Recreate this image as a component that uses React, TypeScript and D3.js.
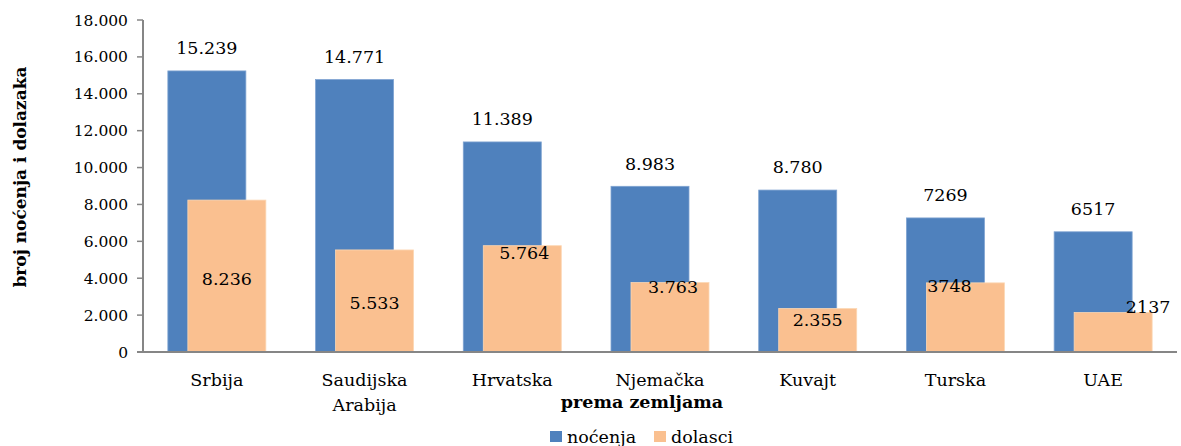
import React, { useEffect } from "react";
import * as d3 from "d3";

const categories = ["Srbija", "Saudijska Arabija", "Hrvatska", "Njemačka", "Kuvajt", "Turska", "UAE"];
const nocenja = [15239, 14771, 11389, 8983, 8780, 7269, 6517];
const dolasci = [8236, 5533, 5764, 3763, 2355, 3748, 2137];
const nocenjaLabels = ["15.239", "14.771", "11.389", "8.983", "8.780", "7269", "6517"];
const dolasciLabels = ["8.236", "5.533", "5.764", "3.763", "2.355", "3748", "2137"];
const yTicks = [0, 2000, 4000, 6000, 8000, 10000, 12000, 14000, 16000, 18000];
const seriesNames = ["noćenja", "dolasci"];

// manual label placement (as in the original chart): value level and horizontal shift
const dolasciLabelLevel = [3958, 2657, 5368, 3524, 1735, 3578, 2440];
const dolasciLabelDx = [0, 0, 2, 3, 0, -16, 35];

const W = 1181;
const H = 446;
const FONT = "'DejaVu Serif', serif";
const BLUE = "#4F81BD";
const ORANGE = "#FAC090";

export default function App() {
  useEffect(() => {
    document.body.style.margin = "0";
  }, []);

  const x = d3.scaleBand<string>().domain(categories).range([143, 1177]).padding(0);
  const y = d3.scaleLinear().domain([0, 18000]).range([352, 20]);
  const barW = 78;
  const off = 20;
  const fmtTick = (v: number) => (v === 0 ? "0" : d3.format(",")(v).replace(/,/g, "."));

  return (
    <svg width={W} height={H} style={{ display: "block" }} fontFamily={FONT}>
      <rect width={W} height={H} fill="#fff" />
      {categories.map((c, i) => {
        const cx = (x(c) as number) + x.bandwidth() / 2;
        const bx = cx - (barW + off) / 2;
        const ox = bx + off;
        return (
          <g key={c}>
            <rect x={bx} y={y(nocenja[i])} width={barW} height={y(0) - y(nocenja[i])} fill={BLUE} stroke="#7fa3d1" strokeWidth={0.8} />
            <rect x={ox} y={y(dolasci[i])} width={barW} height={y(0) - y(dolasci[i])} fill={ORANGE} stroke="#fcd7b4" strokeWidth={0.8} />
          </g>
        );
      })}
      {categories.map((c, i) => {
        const cx = (x(c) as number) + x.bandwidth() / 2;
        const bx = cx - (barW + off) / 2;
        const ox = bx + off;
        return (
          <g key={c + "l"} fontSize={17.5} fill="#000">
            <text x={bx + barW / 2} y={y(nocenja[i]) - 23} dy="0.36em" textAnchor="middle">
              {nocenjaLabels[i]}
            </text>
            <text x={ox + barW / 2 + dolasciLabelDx[i]} y={y(dolasciLabelLevel[i])} dy="0.36em" textAnchor="middle">
              {dolasciLabels[i]}
            </text>
          </g>
        );
      })}
      {/* y axis */}
      <line x1={143} x2={143} y1={y(18000)} y2={y(0)} stroke="#868686" strokeWidth={2} />
      {yTicks.map((t) => (
        <g key={t}>
          <line x1={137} x2={143} y1={y(t)} y2={y(t)} stroke="#868686" strokeWidth={1.5} />
          <text x={128} y={y(t)} dy="0.36em" textAnchor="end" fontSize={15.5} fill="#000">
            {fmtTick(t)}
          </text>
        </g>
      ))}
      {/* x axis */}
      <line x1={137} x2={1177} y1={y(0)} y2={y(0)} stroke="#868686" strokeWidth={2} />
      {categories.map((c) => {
        const cx = (x(c) as number) + x.bandwidth() / 2;
        const parts = c.split(" ");
        return (
          <text key={c + "x"} x={cx} y={380} dy="0.36em" textAnchor="middle" fontSize={17.5} fill="#000">
            {parts.map((p, k) => (
              <tspan key={k} x={cx} dy={k === 0 ? "0.36em" : 25}>
                {p}
              </tspan>
            ))}
          </text>
        );
      })}
      <text x={642} y={402} dy="0.36em" textAnchor="middle" fontSize={17.5} fontWeight="bold" fill="#000">
        prema zemljama
      </text>
      <text transform="translate(20,177) rotate(-90)" dy="0.36em" textAnchor="middle" fontSize={17} fontWeight="bold" fill="#000">
        broj noćenja i dolazaka
      </text>
      {/* legend */}
      <rect x={550} y={431} width={12} height={11} fill={BLUE} />
      <text x={567} y={437} dy="0.36em" fontSize={17.5} fill="#000">{seriesNames[0]}</text>
      <rect x={654} y={431} width={12} height={11} fill={ORANGE} />
      <text x={671} y={437} dy="0.36em" fontSize={17.5} fill="#000">{seriesNames[1]}</text>
    </svg>
  );
}
